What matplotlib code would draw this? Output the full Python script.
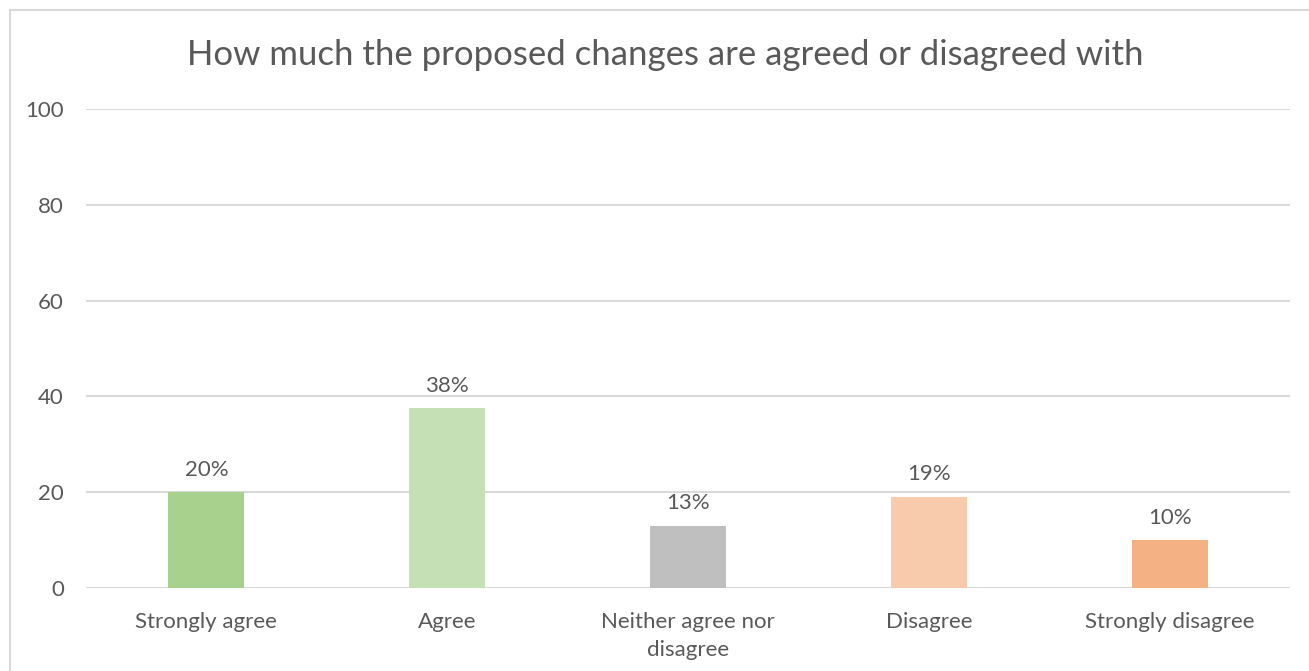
import matplotlib.pyplot as plt
from matplotlib.patches import Rectangle

plt.rcParams['font.family'] = ['Lato', 'DejaVu Sans']

# data
categories = ['Strongly agree', 'Agree', 'Neither agree nor\ndisagree', 'Disagree', 'Strongly disagree']
values = [20, 37.5, 13, 19, 10]
labels = ['20%', '38%', '13%', '19%', '10%']
colors = ['#A9D18E', '#C5E0B4', '#BFBFBF', '#F8CBAD', '#F4B183']
yticks = [0, 20, 40, 60, 80, 100]

txt = '#595959'

fig = plt.figure(figsize=(13.09, 6.71), dpi=100)
# outer chart border (clipped at right and bottom like the screenshot)
fig.patches.append(Rectangle((10 / 1309, -0.05), 1.1, 1 - 10 / 671 + 0.05,
                             transform=fig.transFigure, fill=False,
                             edgecolor='#D9D9D9', linewidth=1.5))

ax = fig.add_axes([86 / 1309, 1 - 588 / 671, (1290 - 86) / 1309, (588 - 109) / 671])
x = range(len(categories))
ax.bar(x, values, width=0.316, color=colors, zorder=3)

for xi, v, lab in zip(x, values, labels):
    ax.annotate(lab, (xi, v), xytext=(0, 9), textcoords='offset points',
                ha='center', va='bottom', fontsize=16, color=txt)

ax.set_xlim(-0.5, len(categories) - 0.5)
ax.set_ylim(0, 100)
ax.set_yticks(yticks)
ax.yaxis.grid(True, color='#D9D9D9', linewidth=1.5, zorder=0)
ax.set_xticks(list(x))
ax.set_xticklabels(categories, fontsize=16, color=txt, linespacing=1.45)
ax.tick_params(axis='y', labelsize=16, labelcolor=txt, length=0, pad=16)
ax.tick_params(axis='x', length=0, pad=17.5)
for s in ax.spines.values():
    s.set_visible(False)

fig.text(0.508, 1 - 55 / 671, 'How much the proposed changes are agreed or disagreed with',
         ha='center', va='center', fontsize=25, color=txt)

fig.savefig('out.png', dpi=100)
